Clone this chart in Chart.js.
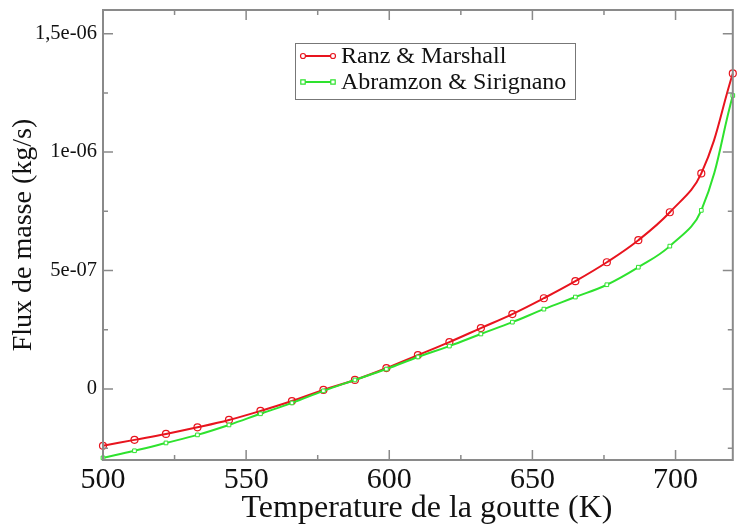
<!DOCTYPE html>
<html>
<head>
<meta charset="utf-8">
<script src="https://cdn.jsdelivr.net/npm/chart.js@4/dist/chart.umd.min.js"></script>
<style>
  html, body { margin: 0; padding: 0; background: #fff; }
  #wrap { width: 738px; height: 525px; }
</style>
</head>
<body>
<div id="wrap"><canvas id="chart"></canvas></div>
<script>
// temperatures (K) where the markers sit
const temps = [500, 511, 522, 533, 544, 555, 566, 577, 588, 599, 610, 621, 632, 643, 654, 665, 676, 687, 698, 709, 720];
// mass flux (kg/s)
const ranzMarshall = [-2.40e-7, -2.15e-7, -1.90e-7, -1.62e-7, -1.31e-7, -0.93e-7, -0.51e-7, -0.04e-7, 0.38e-7, 0.88e-7, 1.43e-7, 1.98e-7, 2.57e-7, 3.16e-7, 3.83e-7, 4.55e-7, 5.35e-7, 6.28e-7, 7.46e-7, 9.10e-7, 13.32e-7];
const abramzonSirignano = [-2.91e-7, -2.61e-7, -2.28e-7, -1.94e-7, -1.52e-7, -1.05e-7, -0.59e-7, -0.08e-7, 0.38e-7, 0.84e-7, 1.35e-7, 1.81e-7, 2.32e-7, 2.82e-7, 3.37e-7, 3.88e-7, 4.40e-7, 5.14e-7, 6.03e-7, 7.54e-7, 12.39e-7];
const seriesNames = ['Ranz & Marshall', 'Abramzon & Sirignano'];
const xTitle = 'Temperature de la goutte (K)';
const yTitle = 'Flux de masse (kg/s)';

const red = 'rgb(232, 20, 30)';
const green = 'rgb(46, 226, 46)';
const axisColor = '#8a8a8a';
const serif = '"Liberation Serif", "DejaVu Serif", serif';

function fmtY(v) {
	if (Math.abs(v) < 1e-12) return '0';
	let s = Number(v.toPrecision(3)).toExponential();
	let parts = s.split('e');
	let exp = parseInt(parts[1], 10);
	let e = String(Math.abs(exp)).padStart(2, '0');
	return parts[0].replace('.', ',') + 'e' + (exp < 0 ? '-' : '') + e;
}

function isMult(v, step) {
	let r = v / step;
	return Math.abs(r - Math.round(r)) < 1e-6;
}

/*
  frame, inward ticks (also mirrored on top/right), axis titles and the legend box
*/
const framePlugin = {
	id: 'frame',
	afterDraw(chart) {
		const ctx = chart.ctx;
		const a = chart.chartArea;
		const xs = chart.scales.x;
		const ys = chart.scales.y;
		ctx.save();
		ctx.strokeStyle = axisColor;
		ctx.lineWidth = 2;
		ctx.strokeRect(a.left, a.top, a.right - a.left, a.bottom - a.top);

		ctx.lineWidth = 1.5;
		ctx.beginPath();
		xs.ticks.forEach(t => {
			let px = xs.getPixelForValue(t.value);
			if (px <= a.left + 1 || px >= a.right - 1) return;
			let len = isMult(t.value, 50) ? 10 : 5;
			ctx.moveTo(px, a.bottom); ctx.lineTo(px, a.bottom - len);
			ctx.moveTo(px, a.top); ctx.lineTo(px, a.top + len);
		});
		ys.ticks.forEach(t => {
			let py = ys.getPixelForValue(t.value);
			if (py <= a.top + 1 || py >= a.bottom - 1) return;
			let len = isMult(t.value, 5e-7) ? 10 : 5;
			ctx.moveTo(a.left, py); ctx.lineTo(a.left + len, py);
			ctx.moveTo(a.right, py); ctx.lineTo(a.right - len, py);
		});
		ctx.stroke();

		// axis titles
		ctx.fillStyle = '#111';
		ctx.textAlign = 'center';
		ctx.textBaseline = 'alphabetic';
		ctx.font = '32px ' + serif;
		ctx.fillText(xTitle, 427, 517);
		ctx.save();
		ctx.translate(31, 235);
		ctx.rotate(-Math.PI / 2);
		ctx.font = '28px ' + serif;
		ctx.fillText(yTitle, 0, 0);
		ctx.restore();

		// legend
		const lx = 295, ly = 43, lw = 280, lh = 56;
		ctx.fillStyle = '#fff';
		ctx.fillRect(lx, ly, lw, lh);
		ctx.strokeStyle = '#777';
		ctx.lineWidth = 1;
		ctx.strokeRect(lx + 0.5, ly + 0.5, lw, lh);
		const rows = [
			{ name: seriesNames[0], color: red, y: ly + 13, shape: 'circle' },
			{ name: seriesNames[1], color: green, y: ly + 39, shape: 'rect' }
		];
		ctx.textAlign = 'left';
		rows.forEach(r => {
			ctx.strokeStyle = r.color;
			ctx.lineWidth = 2;
			ctx.beginPath();
			ctx.moveTo(lx + 8, r.y); ctx.lineTo(lx + 38, r.y);
			ctx.stroke();
			ctx.lineWidth = 1.2;
			[lx + 8, lx + 38].forEach(cx => {
				ctx.beginPath();
				if (r.shape === 'circle') ctx.arc(cx, r.y, 2.5, 0, Math.PI * 2);
				else ctx.rect(cx - 2.2, r.y - 2.2, 4.4, 4.4);
				ctx.fillStyle = '#fff';
				ctx.fill();
				ctx.stroke();
			});
			ctx.fillStyle = '#111';
			ctx.font = '24px ' + serif;
			ctx.textBaseline = 'middle';
			ctx.fillText(r.name, lx + 46, r.y + 1);
		});
		ctx.restore();
	}
};

const chart = new Chart(document.getElementById('chart'), {
	type: 'line',
	data: {
		labels: temps,
		datasets: [
			{
				label: seriesNames[1],
				data: temps.map((t, i) => ({ x: t, y: abramzonSirignano[i] })),
				borderColor: green,
				backgroundColor: '#fff',
				borderWidth: 2,
				pointStyle: 'rect',
				pointRadius: 2.6,
				pointBorderWidth: 1,
				tension: 0.4,
				clip: false
			},
			{
				label: seriesNames[0],
				data: temps.map((t, i) => ({ x: t, y: ranzMarshall[i] })),
				borderColor: red,
				backgroundColor: 'rgba(255,255,255,0)',
				borderWidth: 2,
				pointStyle: 'circle',
				pointRadius: 3.5,
				pointBorderWidth: 1.2,
				tension: 0.4,
				clip: false
			}
		]
	},
	options: {
		animation: false,
		responsive: true,
		maintainAspectRatio: false,
		layout: { padding: { top: 10, right: 3, left: 0, bottom: 0 } },
		plugins: {
			legend: { display: false },
			tooltip: { enabled: false }
		},
		scales: {
			x: {
				type: 'linear',
				min: 500,
				max: 720,
				afterFit(scale) {
					scale.height = 65;
					scale.paddingLeft = 0;
					scale.paddingRight = 0;
				},
				grid: { display: false, drawTicks: false },
				border: { display: false },
				ticks: {
					stepSize: 25,
					includeBounds: false,
					autoSkip: false,
					maxRotation: 0,
					padding: 2,
					color: '#111',
					font: { family: serif, size: 30 },
					callback: v => isMult(v, 50) ? String(v) : ''
				}
			},
			y: {
				min: -3e-7,
				max: 1.6e-6,
				afterFit(scale) {
					scale.width = 103;
					scale.paddingTop = 0;
					scale.paddingBottom = 0;
				},
				afterBuildTicks(scale) {
					scale.ticks = scale.ticks.filter(t => isMult(t.value, 2.5e-7));
				},
				grid: { display: false, drawTicks: false },
				border: { display: false },
				ticks: {
					stepSize: 2.5e-7,
					includeBounds: false,
					autoSkip: false,
					padding: 6,
					color: '#111',
					font: { family: serif, size: 20.5 },
					callback: v => isMult(v, 5e-7) ? fmtY(v) : ''
				}
			}
		}
	},
	plugins: [framePlugin]
});
</script>
</body>
</html>
